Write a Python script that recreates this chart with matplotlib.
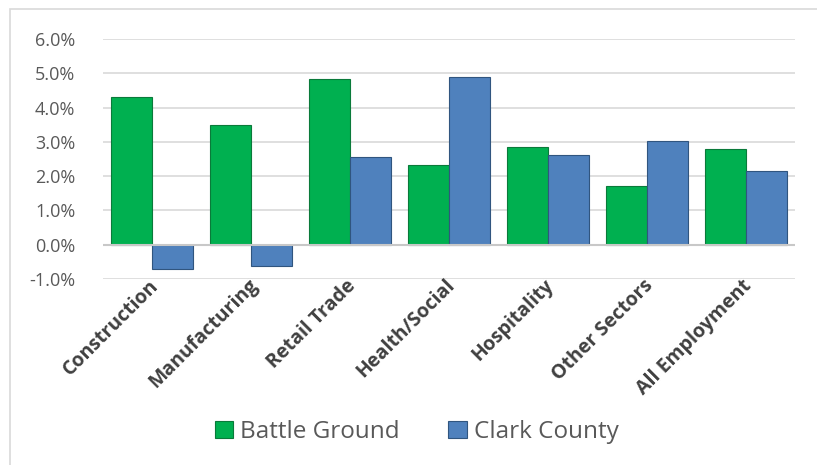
import matplotlib.pyplot as plt
import numpy as np
from matplotlib.patches import Rectangle
from matplotlib.ticker import FuncFormatter

# --- データ ---
categories = ['Construction', 'Manufacturing', 'Retail Trade', 'Health/Social',
              'Hospitality', 'Other Sectors', 'All Employment']
battle_ground = [4.3, 3.5, 4.83, 2.33, 2.86, 1.7, 2.8]
clark_county = [-0.7, -0.63, 2.57, 4.88, 2.62, 3.03, 2.16]
series_names = ['Battle Ground', 'Clark County']

plt.rcParams['font.family'] = ['Open Sans', 'DejaVu Sans']
text_color = '#595959'

fig = plt.figure(figsize=(8.17, 4.65), dpi=100)
ax = fig.add_axes([103 / 817, 1 - 279 / 465, 692 / 817, 240 / 465])

# chart border (left + top)
fig.add_artist(Rectangle((10 / 817, -0.1), 1.2, 1.1 - 9 / 465, transform=fig.transFigure,
                         fill=False, edgecolor='#d9d9d9', linewidth=1.2))

x = np.arange(len(categories))
w = 0.415
ax.bar(x - w / 2, battle_ground, w, color='#00b050', edgecolor='#0a7a3a',
       linewidth=0.8, label=series_names[0], zorder=3)
ax.bar(x + w / 2, clark_county, w, color='#4f81bd', edgecolor='#30557f',
       linewidth=0.8, label=series_names[1], zorder=3)

ax.set_xlim(-0.5, len(categories) - 0.5)
ax.set_ylim(-1.0, 6.0)
ax.set_yticks(np.arange(-1, 7, 1))
ax.yaxis.set_major_formatter(FuncFormatter(lambda v, p: f'{v:.1f}%'))
ax.grid(axis='y', color='#d9d9d9', linewidth=1.2, zorder=0)
ax.axhline(0, color='#c8c8c8', linewidth=1.5, zorder=4)
for s in ax.spines.values():
    s.set_visible(False)
ax.tick_params(axis='both', length=0)
ax.tick_params(axis='y', labelsize=13, labelcolor=text_color, pad=20)

ax.set_xticks(x)
ax.set_xticklabels([])
for xi, name in zip(x, categories):
    ax.text(xi - 0.04, -0.9, name, rotation=45, ha='right', va='top',
            rotation_mode='anchor', fontsize=14, fontweight='bold',
            color='#404040', transform=ax.transData)

leg = fig.legend(loc='center', bbox_to_anchor=(0.51, 1 - 432 / 465), ncol=2,
                 frameon=False, fontsize=17.5, handlelength=0.75, handleheight=0.75,
                 handletextpad=0.3, columnspacing=2.0, labelcolor=text_color)

fig.savefig('out.png', dpi=100)
